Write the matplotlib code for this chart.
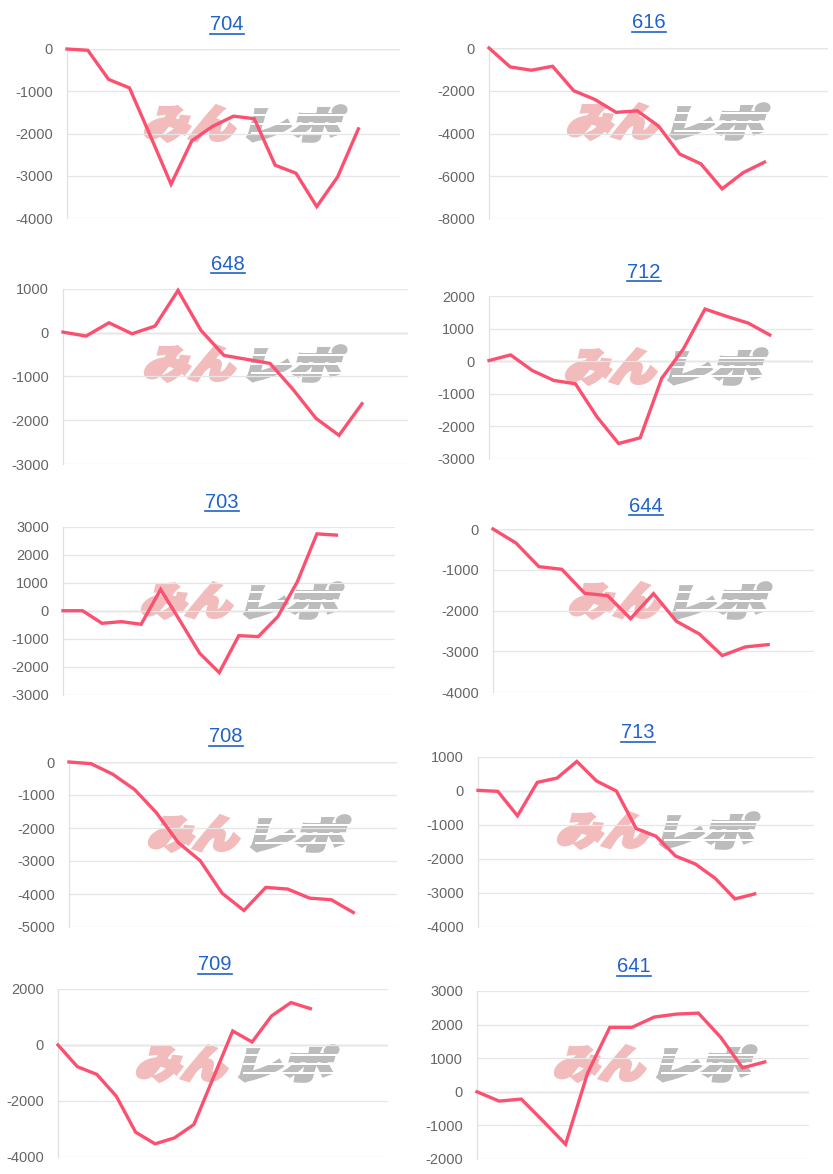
import numpy as np
import matplotlib.pyplot as plt
from matplotlib.textpath import TextPath
from matplotlib.patches import PathPatch, Rectangle
from matplotlib.font_manager import FontProperties
from matplotlib.transforms import Affine2D
from matplotlib.lines import Line2D

# グラフのデータ (台番号ごとの差枚推移)
names = ['704', '616', '648', '712', '703', '644', '708', '713', '709', '641']

v704 = [0, -30, -720, -920, -2050, -3200, -2170, -1830, -1590, -1650,
        -2750, -2940, -3730, -3030, -1890]
v616 = [0, -885, -1040, -855, -2000, -2410, -3010, -2940, -3650, -4960,
        -5420, -6590, -5830, -5340]
v648 = [15, -76, 228, -23, 152, 967, 53, -518, -609, -700,
        -1294, -1957, -2345, -1622]
v712 = [20, 193, -285, -590, -692, -1710, -2525, -2350, -520, 377,
        1600, 1375, 1170, 805]
v703 = [10, 10, -440, -380, -475, 770, -360, -1510, -2200, -880,
        -915, -200, 1045, 2755, 2710]
v644 = [0, -343, -924, -989, -1578, -1635, -2200, -1586, -2265, -2576,
        -3107, -2894, -2837]
v708 = [0, -50, -370, -835, -1540, -2445, -2990, -3975, -4500, -3800,
        -3850, -4125, -4175, -4560]
v713 = [20, -10, -730, 254, 380, 869, 293, 0, -1103, -1328,
        -1914, -2148, -2568, -3174, -3027]
v709 = [0, -776, -1050, -1826, -3115, -3530, -3317, -2840, -1170, 500,
        107, 1038, 1515, 1300]
v641 = [0, -277, -217, -880, -1561, 563, 1917, 1917, 2223, 2312,
        2342, 1630, 711, 889]

series = [v704, v616, v648, v712, v703, v644, v708, v713, v709, v641]
x_slots = [16, 16, 15, 15, 17, 14, 15, 17, 17, 15]
y_min = [-4000, -8000, -3000, -3000, -3000, -4000, -5000, -4000, -4000, -2000]
y_max = [0, 0, 1000, 2000, 3000, 0, 0, 1000, 2000, 3000]
y_step = [1000, 2000, 1000, 1000, 1000, 1000, 1000, 1000, 2000, 1000]

W, H = 833, 1174
LINE = '#fc5070'
TITLE = '#1f62c8'

# 配置 (ピクセル: 左, 上, 右, 下)
boxes = [(67, 49, 400, 218), (489, 48, 828, 219),
         (63, 289, 408, 464), (489, 296, 813, 459),
         (63, 527, 395, 695), (493, 529, 814, 692),
         (69, 762, 397, 927), (478, 757, 814, 927),
         (58, 989, 388, 1157), (477, 991, 809, 1159)]
title_xy = [(227, 25), (649, 23), (228, 264), (644, 272), (222, 502),
            (646, 507), (226, 737), (638, 733), (215, 965), (634, 967)]
mark_xy = [(143, 105), (566, 103), (143, 345), (564, 348), (140, 582),
           (568, 582), (147, 815), (556, 812), (135, 1045), (553, 1045)]

plt.rcParams['font.family'] = ['Liberation Sans', 'DejaVu Sans']
fig = plt.figure(figsize=(W / 100, H / 100), dpi=100)

jp = FontProperties(family='Noto Sans CJK JP', weight='black')


def px_to_fig(x, y):
    return x / W, 1 - y / H


def watermark(left, top):
    # みんレポ のロゴ (透かし)
    parts = [('みん', '#f2bcbc', 0, 98), ('レポ', '#bcbcbc', 104, 100)]
    for txt, col, dx, wid in parts:
        tp = TextPath((0, 0), txt, size=100, prop=jp)
        ext = tp.get_extents()
        sx = wid / ext.width * 0.9
        sy = 35 / ext.height
        tr = (Affine2D().translate(-ext.x0, -ext.y0).scale(sx, sy)
              .skew_deg(16, 0).translate(left + dx, H - top - 36)
              .scale(1 / W, 1 / H) + fig.transFigure)
        fig.add_artist(PathPatch(tp, transform=tr, facecolor=col,
                                 edgecolor=col, lw=2.6, zorder=-2))
    # スピード線
    for yy in [top + 11, top + 20, top + 29]:
        x0, y0 = px_to_fig(left + 108, yy)
        fig.add_artist(Rectangle((x0, y0), 100 / W, 1.6 / H, transform=fig.transFigure,
                                 facecolor='white', edgecolor='none', zorder=-1))


titles = []
for i, vals in enumerate(series):
    l, t, r, b = boxes[i]
    ax = fig.add_axes([l / W, 1 - b / H, (r - l) / W, (b - t) / H])
    ax.set_facecolor('none')
    x = np.arange(len(vals))
    ax.plot(x, vals, color=LINE, lw=2.4, solid_joinstyle='miter',
            clip_on=False, zorder=3)
    ax.set_xlim(0, x_slots[i])
    ax.set_ylim(y_min[i], y_max[i])
    ticks = np.arange(y_min[i], y_max[i] + 1, y_step[i])
    ax.set_yticks(ticks)
    ax.set_yticklabels([str(int(v)) for v in ticks])
    ax.set_xticks([])
    ax.yaxis.grid(True, color='#e6e6e6', lw=0.9)
    ax.axhline(0, color='#bbbbbb', lw=0.9, zorder=1)
    ax.tick_params(axis='y', length=0, pad=10, labelsize=10.5,
                   labelcolor='#666666')
    for s in ['top', 'right', 'bottom']:
        ax.spines[s].set_visible(False)
    ax.spines['left'].set_color('#e0e0e0')
    ax.spines['left'].set_linewidth(0.9)

    tx, ty = title_xy[i]
    fx, fy = px_to_fig(tx, ty)
    titles.append(fig.text(fx, fy, names[i], color=TITLE, fontsize=14.5,
                           ha='center', va='center'))
    watermark(*mark_xy[i])

# タイトルの下線
fig.canvas.draw()
rend = fig.canvas.get_renderer()
for t in titles:
    bb = t.get_window_extent(rend)
    yline = (bb.y0 + 1) / H
    fig.add_artist(Line2D([bb.x0 / W, bb.x1 / W], [yline, yline],
                          transform=fig.transFigure, color=TITLE, lw=1.2))

fig.savefig('out.png', dpi=100, facecolor='white')
